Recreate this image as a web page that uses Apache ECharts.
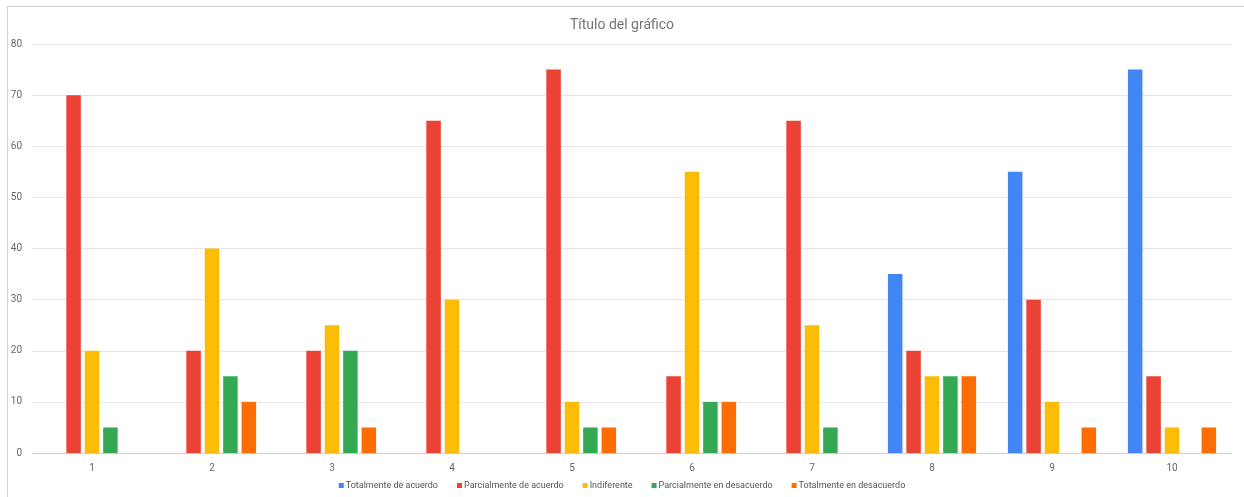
<!DOCTYPE html>
<html><head><meta charset="utf-8">
<script src="https://cdn.jsdelivr.net/npm/echarts@6/dist/echarts.min.js"></script>
<style>html,body{margin:0;padding:0;background:#fff}#c{width:1244px;height:497px}</style>
</head><body><div id="c"></div>
<script>
const categories = ['1','2','3','4','5','6','7','8','9','10'];
const seriesNames = ['Totalmente de acuerdo','Parcialmente de acuerdo','Indiferente','Parcialmente en desacuerdo','Totalmente en desacuerdo'];
const totalmenteAcuerdo = [0,0,0,0,0,0,0,35,55,75];
const parcialmenteAcuerdo = [70,20,20,65,75,15,65,20,30,15];
const indiferente = [20,40,25,30,10,55,25,15,10,5];
const parcialmenteDesacuerdo = [5,15,20,0,5,10,5,15,0,0];
const totalmenteDesacuerdo = [0,10,5,0,5,10,0,15,5,5];
const colors = ['#4285F4','#EA4335','#FBBC04','#34A853','#FF6D01'];
const allData = [totalmenteAcuerdo,parcialmenteAcuerdo,indiferente,parcialmenteDesacuerdo,totalmenteDesacuerdo];

const chart = echarts.init(document.getElementById('c'), null, {renderer:'canvas'});
chart.setOption({
  animation:false,
  color:colors,
  title:{text:'Título del gráfico',left:'center',top:13,textStyle:{fontFamily:'Roboto, Arial',fontSize:14,fontWeight:'normal',color:'#757575'}},
  graphic:[
    {type:'line',shape:{x1:7,y1:6.5,x2:1244,y2:6.5},style:{stroke:'#d0d0d0',lineWidth:1},silent:true},
    {type:'line',shape:{x1:7.5,y1:6,x2:7.5,y2:497},style:{stroke:'#d0d0d0',lineWidth:1},silent:true}
  ],
  legend:{top:481,left:'center',padding:0,itemWidth:5,itemHeight:5,itemGap:19,icon:'rect',
    textStyle:{fontFamily:'Roboto, Arial',fontSize:9,color:'#555',padding:[0,0,0,-3]},data:seriesNames},
  grid:{left:32,right:12,top:44,bottom:44,containLabel:false},
  xAxis:{type:'category',data:categories,axisTick:{show:false},
    axisLine:{lineStyle:{color:'#cccccc'}},
    axisLabel:{color:'#666',fontFamily:'Roboto, Arial',fontSize:10,margin:10}},
  yAxis:{type:'value',min:0,max:80,interval:10,
    axisLine:{show:false},axisTick:{show:false},
    splitLine:{lineStyle:{color:'#e6e6e6'}},
    axisLabel:{color:'#666',fontFamily:'Roboto, Arial',fontSize:10,margin:10}},
  series: seriesNames.map((n,i)=>({name:n,type:'bar',data:allData[i],barWidth:14.5,barGap:'27%'}))
});
</script></body></html>
